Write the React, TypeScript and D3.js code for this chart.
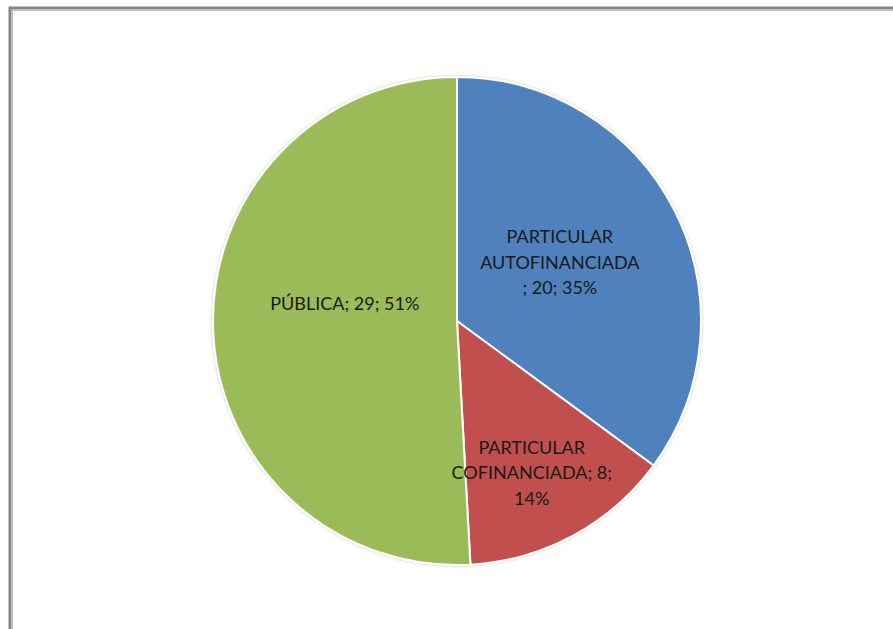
import React from "react";
import * as d3 from "d3";

const categories = ["PARTICULAR AUTOFINANCIADA", "PARTICULAR COFINANCIADA", "PÚBLICA"];
const values = [20, 8, 29];
const labelLines = [
  ["PARTICULAR", "AUTOFINANCIADA", "; 20; 35%"],
  ["PARTICULAR", "COFINANCIADA; 8;", "14%"],
  ["PÚBLICA; 29; 51%"],
];
const colors = ["#4F81BD", "#C0504D", "#9BBB59"];

const W = 893;
const H = 629;
const cx = 457;
const cy = 321;
const R = 244;

export default function App() {
  const pie = d3.pie<number>().sort(null).value((d) => d);
  const arcs = pie(values);
  const arcGen = d3.arc<d3.PieArcDatum<number>>().innerRadius(0).outerRadius(R);
  const labelR = [0.5, 0.695, 0.46];
  const labelShift = [
    [-6, -3],
    [-6, 3],
    [0, -20],
  ];
  const lineH = 25.5;
  return (
    <svg
      width={W}
      height={H}
      style={{ position: "fixed", left: 0, top: 0, background: "#fff" }}
      fontFamily="Lato, 'Open Sans', sans-serif"
    >
      <defs>
        <filter id="sh" x="-10%" y="-10%" width="120%" height="120%">
          <feGaussianBlur in="SourceAlpha" stdDeviation="1.5" />
          <feOffset dx="0" dy="0" result="b" />
          <feFlood floodColor="#000" floodOpacity="0.25" />
          <feComposite in2="b" operator="in" />
          <feMerge>
            <feMergeNode />
            <feMergeNode in="SourceGraphic" />
          </feMerge>
        </filter>
      </defs>
      <rect x={10} y={8} width={W + 20} height={H + 20} fill="#fff" stroke="#858585" strokeWidth={3} />
      <line x1={12} y1={10.5} x2={W} y2={10.5} stroke="#bdbdbd" strokeWidth={1} />
      <line x1={12.5} y1={10} x2={12.5} y2={H} stroke="#bdbdbd" strokeWidth={1} />
      <g transform={`translate(${cx},${cy})`}>
        <g filter="url(#sh)">
          {arcs.map((a, i) => (
            <path key={categories[i]} d={arcGen(a) || ""} fill={colors[i]} stroke="#fff" strokeWidth={2} />
          ))}
        </g>
        {arcs.map((a, i) => {
          const mid = (a.startAngle + a.endAngle) / 2;
          const r = R * labelR[i];
          const x = Math.sin(mid) * r + labelShift[i][0];
          const y = -Math.cos(mid) * r + labelShift[i][1];
          const lines = labelLines[i];
          const y0 = y - ((lines.length - 1) * lineH) / 2;
          return (
            <text key={"l" + i} textAnchor="middle" fontSize={18} fill="#1a1a1a">
              {lines.map((ln, j) => (
                <tspan key={j} x={x} y={y0 + j * lineH + 6}>
                  {ln}
                </tspan>
              ))}
            </text>
          );
        })}
      </g>
    </svg>
  );
}
